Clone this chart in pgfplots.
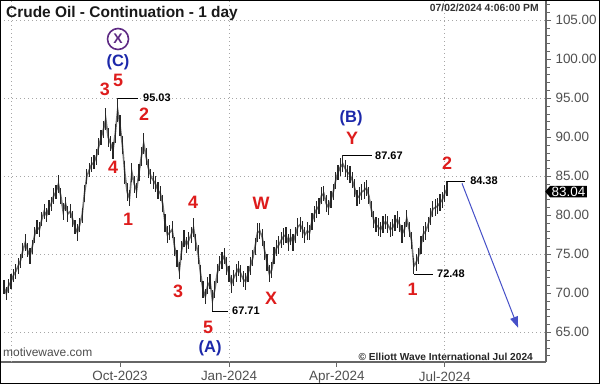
\documentclass[border=0pt]{standalone}
\usepackage{pgfplots}
\pgfplotsset{compat=1.18}
\usepackage{fontspec}
\setmainfont{Liberation Sans}
\usetikzlibrary{arrows.meta,shapes.symbols}
\newcommand\fs[1]{\fontsize{#1}{#1}\selectfont}
\definecolor{ewred}{RGB}{222,28,28}
\definecolor{ewblue}{RGB}{28,40,170}
\definecolor{ewpurple}{RGB}{94,42,132}
\definecolor{arrowblue}{RGB}{70,80,200}
\definecolor{ticktext}{RGB}{80,80,80}
\begin{document}
\begin{tikzpicture}
\useasboundingbox (0,0) rectangle (600bp,384bp);
\fill[white] (0,0) rectangle (600bp,384bp);
\begin{axis}[
  at={(0,22bp)}, anchor=south west,
  scale only axis, width=546bp, height=362bp,
  xmin=-101.3, xmax=359.5, ymin=61.2, ymax=107.6,
  axis x line*=bottom, axis y line*=right,
  axis line style={-, black!60, line width=1.6bp},
  tick align=outside,
  tick style={black!60, line width=0.8bp},
  major tick length=5bp, minor tick length=3.5bp,
  xtick={0,92,183,274},
  xticklabels={Oct-2023,Jan-2024,Apr-2024,Jul-2024},
  ytick={65,70,...,105},
  yticklabels={65.00,70.00,75.00,80.00,85.00,90.00,95.00,100.00,105.00},
  minor ytick={62,63,...,107},
  ticklabel style={font=\fs{13.5}, text=ticktext},
  yticklabel style={anchor=west, xshift=1bp},
  xticklabel style={yshift=-1bp},
  extra y ticks={65,75,85,95,105},
  extra y tick labels={},
  extra y tick style={grid=major, tick style={draw=none}},
  extra x ticks={-92,92,274},
  extra x tick labels={},
  extra x tick style={grid=major, tick style={draw=none}},
  grid style={black!35, line width=0.7bp, dash pattern=on 1bp off 3bp},
]
\addplot[black!55, line width=1.6bp, mark=none,
  error bars/.cd, y dir=both, y explicit,
  error bar style={black!85, line width=1.2bp}, error mark=none]
  table[x=d, y=c, y error=e] {
d c e
-98 70.8 0.9
-96 70.0 0.8
-94 71.0 0.9
-92 71.5 1.0
-90 72.3 0.8
-88 72.8 0.9
-86 73.5 1.0
-84 74.2 0.9
-82 75.5 1.0
-80 76.5 1.1
-78 75.5 0.9
-76 74.8 1.0
-74 76.0 0.9
-72 77.5 1.0
-70 78.5 0.9
-68 78.2 1.0
-66 79.5 0.9
-64 80.5 1.0
-62 80.0 0.9
-60 81.0 1.0
-58 81.5 0.9
-56 82.5 1.0
-54 83.0 0.9
-52 84.0 1.2
-50 82.5 1.0
-48 80.5 1.1
-46 81.5 0.9
-44 80.2 1.0
-42 80.5 0.9
-40 79.5 1.0
-38 78.5 0.9
-36 77.8 1.1
-34 78.8 0.9
-32 80.0 1.0
-30 82.8 1.1
-28 85.0 1.0
-26 85.8 0.9
-24 86.5 1.0
-22 86.8 0.9
-20 87.5 1.0
-18 88.8 1.1
-16 90.0 1.0
-14 91.0 1.1
-12 92.3 1.4
-10 90.0 1.2
-8 89.2 1.0
-6 88.3 1.1
-4 90.5 1.2
-2 93.5 1.53
0 91.5 1.3
2 89.0 1.2
4 85.5 1.5
6 83.0 1.2
8 82.2 1.0
10 85.5 1.2
12 84.0 1.1
14 83.2 1.0
16 85.5 1.1
18 87.5 1.2
20 89.2 1.3
22 87.5 1.1
24 86.0 1.2
26 85.0 1.0
28 84.5 1.1
30 84.0 1.0
32 83.2 1.1
34 82.8 1.0
36 81.5 1.1
38 79.0 1.2
40 77.5 1.1
42 77.8 1.0
44 78.2 1.1
46 76.0 1.2
48 74.5 1.1
50 72.9 1.1
52 75.5 1.2
54 77.0 1.1
56 76.2 1.0
58 76.8 1.1
60 77.5 1.0
62 78.4 1.2
64 76.5 1.1
66 75.0 1.2
68 72.5 1.1
70 70.5 1.1
72 69.6 1.0
74 71.0 1.1
76 71.5 1.0
78 69.1 1.39
80 70.5 1.1
82 72.5 1.2
84 73.8 1.0
86 74.2 1.1
88 74.8 1.0
90 73.5 1.1
92 72.5 1.0
94 71.2 1.1
96 72.0 1.0
98 72.6 1.1
100 73.2 1.0
102 72.5 1.1
104 71.8 1.0
106 71.5 1.1
108 72.5 1.0
110 73.5 1.1
112 74.5 1.0
114 76.0 1.1
116 77.8 1.2
118 78.0 1.0
120 77.2 1.1
122 75.5 1.2
124 74.0 1.1
126 72.5 1.1
128 73.0 1.0
130 74.8 1.1
132 75.8 1.0
134 76.2 1.1
136 76.8 1.0
138 77.3 1.1
140 77.5 1.0
142 76.5 1.1
144 77.2 1.0
146 76.5 1.1
148 77.5 1.0
150 78.5 1.1
152 78.8 1.0
154 78.2 1.1
156 77.5 1.0
158 78.0 1.1
160 77.8 1.0
162 79.2 1.1
164 80.2 1.0
166 80.8 1.1
168 81.2 1.0
170 82.5 1.1
172 82.8 1.0
174 81.5 1.1
176 81.0 1.0
178 82.0 1.1
180 83.0 1.0
182 84.5 1.1
184 85.5 1.0
186 86.2 1.1
188 86.6 1.07
190 86.0 1.1
192 85.5 1.0
194 85.2 1.1
196 84.5 1.0
198 83.5 1.1
200 82.2 1.0
202 82.5 1.1
204 83.0 1.0
206 83.2 1.1
208 83.5 1.0
210 82.5 1.1
212 80.8 1.0
214 79.5 1.1
216 78.8 1.0
218 78.5 1.1
220 78.2 1.0
222 78.8 1.1
224 79.2 1.0
226 78.8 1.1
228 78.2 1.0
230 78.4 1.1
232 79.0 1.0
234 79.5 1.1
236 78.8 1.0
238 77.6 1.1
240 78.2 1.0
242 79.6 1.1
244 78.2 1.0
246 76.8 1.1
248 73.5 1.02
250 74.0 1.1
252 74.8 1.0
254 76.2 1.1
256 77.6 1.0
258 78.0 1.1
260 78.8 1.0
262 79.8 1.1
264 80.8 1.0
266 81.0 1.1
268 81.2 1.0
270 81.6 1.1
272 82.0 1.0
274 82.8 1.1
276 83.4 0.98
};
% price annotations
\draw[black, line width=0.8bp] (axis cs:-2,95.03) -- (axis cs:15.2,95.03);
\node[anchor=west, inner sep=0, font=\bfseries\fs{11}] at (axis cs:19.4,95.03) {95.03};
\draw[black, line width=0.8bp] (axis cs:188,87.67) -- (axis cs:212.7,87.67);
\node[anchor=west, inner sep=0, font=\bfseries\fs{11}] at (axis cs:215.2,87.67) {87.67};
\draw[black, line width=0.8bp] (axis cs:276,84.38) -- (axis cs:291,84.38);
\node[anchor=west, inner sep=0, font=\bfseries\fs{11}] at (axis cs:295.4,84.38) {84.38};
\draw[black, line width=0.8bp] (axis cs:248,72.48) -- (axis cs:264,72.48);
\node[anchor=west, inner sep=0, font=\bfseries\fs{11}] at (axis cs:267.5,72.48) {72.48};
\draw[black, line width=0.8bp] (axis cs:78,67.71) -- (axis cs:91.1,67.71);
\node[anchor=west, inner sep=0, font=\bfseries\fs{11}] at (axis cs:94.5,67.71) {67.71};
% wave labels
\begin{scope}[every node/.style={inner sep=0, font=\bfseries\fs{18}, text=ewred}]
\node at (axis cs:-12.7,96.1) {3};
\node at (axis cs:-1.7,97.3) {5};
\node at (axis cs:20.3,93.0) {2};
\node at (axis cs:-5.9,86.1) {4};
\node at (axis cs:6.8,79.5) {1};
\node at (axis cs:61.6,81.7) {4};
\node at (axis cs:119,81.6) {W};
\node at (axis cs:49,70.2) {3};
\node at (axis cs:74.3,65.6) {5};
\node at (axis cs:127.4,69.4) {X};
\node at (axis cs:195.8,89.9) {Y};
\node at (axis cs:276,86.7) {2};
\node at (axis cs:247,70.5) {1};
\end{scope}
\begin{scope}[every node/.style={inner sep=0, font=\bfseries\fs{16.5}, text=ewblue}]
\node at (axis cs:-1.7,99.6) {(C)};
\node at (axis cs:76,63.0) {(A)};
\node at (axis cs:195,92.5) {(B)};
\end{scope}
\node[circle, draw=ewpurple, line width=1.6bp, minimum size=21bp, inner sep=0,
  text=ewpurple, font=\bfseries\fs{14}] at (axis cs:-1.7,102.6) {X};
% projection arrow
\draw[-{Triangle[length=11bp,width=8bp]}, arrowblue, line width=1bp]
  (axis cs:288.6,84.1) -- (axis cs:335.9,65.6);
\end{axis}
% texts
\node[anchor=west, inner sep=0, font=\bfseries\fs{15.5}, text=black!90] at (6bp,370bp) {Crude Oil - Continuation - 1 day};
\node[anchor=east, inner sep=0, font=\bfseries\fs{10.4}, text=black!80] at (539bp,376bp) {07/02/2024 4:06:00 PM};
\node[anchor=west, inner sep=0, font=\fs{12}, text=black!70] at (3bp,32bp) {motivewave.com};
\node[anchor=east, inner sep=0, font=\bfseries\fs{10.2}, text=black!85] at (533bp,27bp) {© Elliott Wave International Jul 2024};
\node[signal, signal to=west, signal pointer angle=100, fill=black, text=white,
  font=\fs{13.5}, inner xsep=1.5bp, inner ysep=1bp, anchor=west] at (545bp,192.4bp) {83.04};
\draw[black, line width=1bp] (0.5bp,0.5bp) rectangle (599.5bp,383.5bp);
\end{tikzpicture}
\end{document}
